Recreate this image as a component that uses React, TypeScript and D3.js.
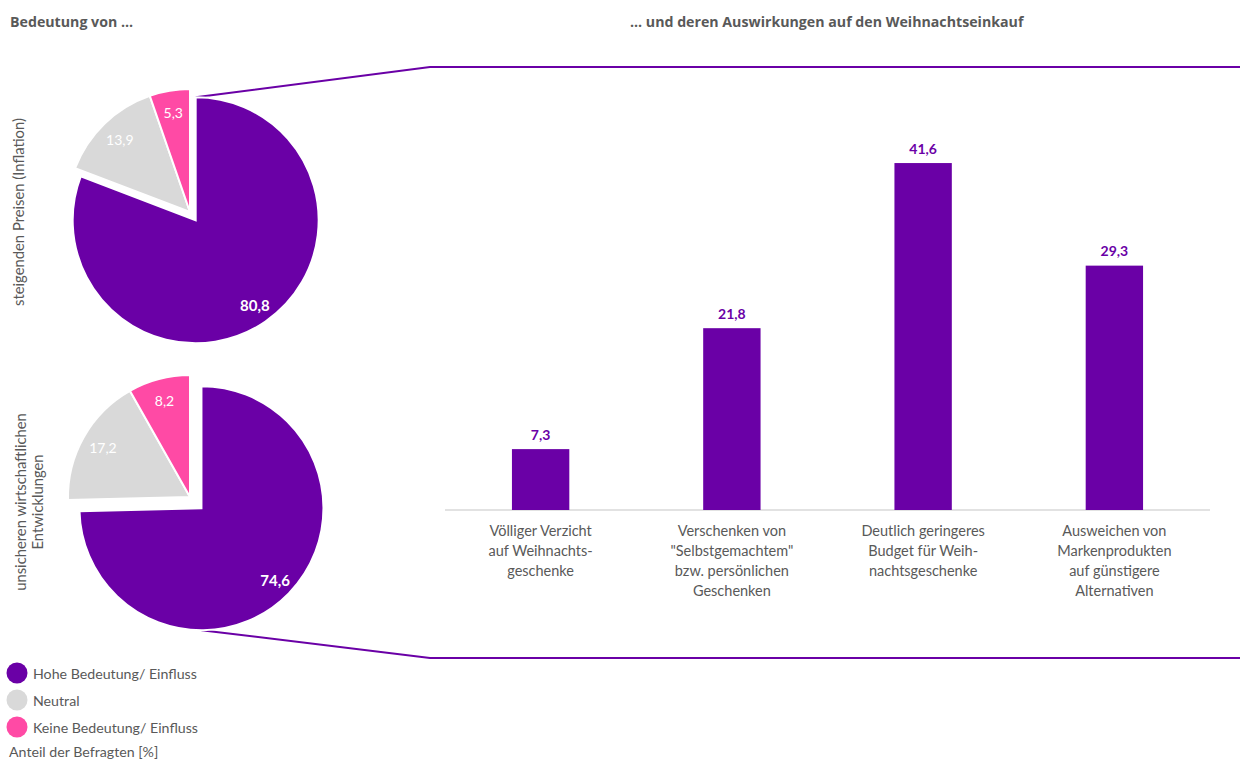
import React from "react";
import * as d3 from "d3";

const segmentNames = ["Hohe Bedeutung/ Einfluss", "Neutral", "Keine Bedeutung/ Einfluss"];
const segmentColors = ["#6A00A6", "#D9D9D9", "#FF4AA5"];
const inflationShares = [80.8, 13.9, 5.3];
const uncertaintyShares = [74.6, 17.2, 8.2];
const pieTitles = [["steigenden Preisen (Inflation)"], ["unsicheren wirtschaftlichen", "Entwicklungen"]];

const barCategories = [
  ["Völliger Verzicht", "auf Weihnachts-", "geschenke"],
  ["Verschenken von", "\"Selbstgemachtem\"", "bzw. persönlichen", "Geschenken"],
  ["Deutlich geringeres", "Budget für Weih-", "nachtsgeschenke"],
  ["Ausweichen von", "Markenprodukten", "auf günstigere", "Alternativen"],
];
const barValues = [7.3, 21.8, 41.6, 29.3];

const PURPLE = "#6A00A6";
const TEXT = "#595959";
const FONT = "Lato, 'Open Sans', sans-serif";
const TITLE_FONT = "'Open Sans', Lato, sans-serif";

const fmt = (v: number) => v.toFixed(1).replace(".", ",");

function Pie({ values, cx, cy, r, explode }: { values: number[]; cx: number; cy: number; r: number; explode: number }) {
  const arcs = d3.pie<number>().sort(null).value((d) => d)(values);
  const arcGen = d3.arc<d3.PieArcDatum<number>>().innerRadius(0).outerRadius(r);
  return (
    <g>
      {arcs.map((a, i) => {
        const mid = (a.startAngle + a.endAngle) / 2;
        const e = i === 0 ? explode : 0;
        const ox = cx + Math.sin(mid) * e;
        const oy = cy - Math.cos(mid) * e;
        const lr = r * 0.82;
        const lx = ox + Math.sin(mid) * lr;
        const ly = oy - Math.cos(mid) * lr;
        return (
          <g key={i}>
            <path d={arcGen(a) || ""} transform={`translate(${ox},${oy})`} fill={segmentColors[i]} stroke="#fff" strokeWidth={2} />
            <text
              x={lx + (i === 0 ? 2 : 0)}
              y={ly + (i === 0 ? 2 : 0)}
              textAnchor="middle"
              dominantBaseline="central"
              fill="#fff"
              fontSize={i === 0 ? 15 : 14}
              fontWeight={i === 0 ? 700 : 400}
              fontFamily={FONT}
            >
              {fmt(values[i])}
            </text>
          </g>
        );
      })}
    </g>
  );
}

export default function App() {
  const x = d3.scaleBand<number>().domain(d3.range(barValues.length)).range([445, 1210]).paddingInner(0.7).paddingOuter(0.35);
  const y = d3.scaleLinear().domain([0, 45]).range([510, 510 - 8.34 * 45]);

  const pie1 = { cx: 190, cy: 212, r: 123, explode: 10 };
  const pie2 = { cx: 190, cy: 497, r: 122, explode: 16 };
  const purpleMid1 = (inflationShares[0] / 100) * Math.PI;
  const purpleMid2 = (uncertaintyShares[0] / 100) * Math.PI;
  const p1c = [pie1.cx + Math.sin(purpleMid1) * pie1.explode, pie1.cy - Math.cos(purpleMid1) * pie1.explode];
  const p2c = [pie2.cx + Math.sin(purpleMid2) * pie2.explode, pie2.cy - Math.cos(purpleMid2) * pie2.explode];

  return (
    <svg width={1240} height={760} style={{ position: "absolute", left: 0, top: 0, display: "block", background: "#fff" }}>
      <text x={10} y={27} fontFamily={TITLE_FONT} fontSize={14.2} fontWeight={700} fill={TEXT}>
        Bedeutung von ...
      </text>
      <text x={630} y={27} fontFamily={TITLE_FONT} fontSize={14.2} fontWeight={700} fill={TEXT}>
        ... und deren Auswirkungen auf den Weihnachtseinkauf
      </text>

      {/* connectors */}
      <polyline points={`${p1c[0]},${p1c[1] - pie1.r} 430,67 1240,67`} fill="none" stroke={PURPLE} strokeWidth={2} />
      <polyline points={`${p2c[0]},${p2c[1] + pie2.r} 430,658 1240,658`} fill="none" stroke={PURPLE} strokeWidth={2} />

      <Pie values={inflationShares} {...pie1} />
      <Pie values={uncertaintyShares} {...pie2} />

      {/* rotated pie titles */}
      <g transform="translate(18,212) rotate(-90)">
        {pieTitles[0].map((l, i) => (
          <text key={i} x={0} y={i * 17} textAnchor="middle" dominantBaseline="central" fontFamily={FONT} fontSize={14.8} fill={TEXT}>
            {l}
          </text>
        ))}
      </g>
      <g transform="translate(20,502) rotate(-90)">
        {pieTitles[1].map((l, i) => (
          <text key={i} x={0} y={i * 17} textAnchor="middle" dominantBaseline="central" fontFamily={FONT} fontSize={14.8} fill={TEXT}>
            {l}
          </text>
        ))}
      </g>

      {/* legend */}
      {segmentNames.map((n, i) => (
        <g key={n} transform={`translate(0,${673 + i * 27})`}>
          <circle cx={17} cy={0} r={10.5} fill={segmentColors[i]} />
          <text x={33} y={0} dominantBaseline="central" fontFamily={FONT} fontSize={14.2} fill={TEXT}>
            {n}
          </text>
        </g>
      ))}
      <text x={9} y={751} dominantBaseline="central" fontFamily={FONT} fontSize={14.2} fill={TEXT}>
        Anteil der Befragten [%]
      </text>

      {/* bars */}
      <line x1={445} x2={1210} y1={y(0)} y2={y(0)} stroke="#D9D9D9" strokeWidth={1.5} />
      {barValues.map((v, i) => {
        const bx = x(i) as number;
        const cxm = bx + x.bandwidth() / 2;
        return (
          <g key={i}>
            <rect x={bx} y={y(v)} width={x.bandwidth()} height={y(0) - y(v)} fill={PURPLE} />
            <text x={cxm} y={y(v) - 15} textAnchor="middle" dominantBaseline="central" fontFamily={FONT} fontSize={14} fontWeight={700} fill={PURPLE}>
              {fmt(v)}
            </text>
            {barCategories[i].map((l, j) => (
              <text key={j} x={cxm} y={530 + j * 20} textAnchor="middle" dominantBaseline="central" fontFamily={FONT} fontSize={14.5} fill={TEXT}>
                {l}
              </text>
            ))}
          </g>
        );
      })}
    </svg>
  );
}
